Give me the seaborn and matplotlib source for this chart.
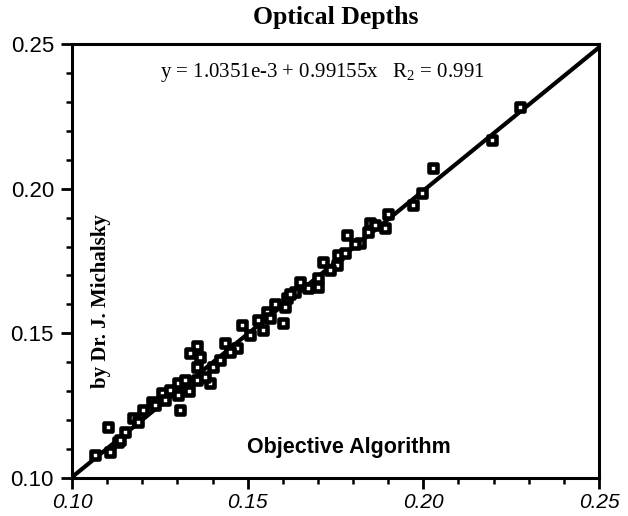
import matplotlib
matplotlib.use("Agg")
import matplotlib.pyplot as plt
import seaborn as sns
import numpy as np
import pandas as pd
from matplotlib.ticker import MultipleLocator, FormatStrFormatter

# ---- data ----
x_values = [0.1065, 0.1103, 0.1108, 0.1132, 0.1151, 0.1174, 0.1203, 0.1188,
            0.1227, 0.1255, 0.1279, 0.1303, 0.1303, 0.1307, 0.1334, 0.1355,
            0.1355, 0.1402, 0.1393, 0.1355, 0.1336, 0.1364, 0.1436, 0.1469,
            0.1379, 0.1483, 0.1545, 0.1601, 0.1554, 0.1606, 0.1611, 0.1635,
            0.1649, 0.1673, 0.1701, 0.1701, 0.1715, 0.1753, 0.1758, 0.1777,
            0.1782, 0.1820, 0.1843, 0.1848, 0.1891, 0.1900, 0.1971, 0.1997,
            0.2028, 0.2196, 0.2275, 0.1507, 0.1564, 0.1421, 0.1450, 0.1322,
            0.1236, 0.1137, 0.1265, 0.1863, 0.1806, 0.1734, 0.1621, 0.1578,
            0.1529]
y_values = [0.1079, 0.1177, 0.1090, 0.1125, 0.1158, 0.1206, 0.1234, 0.1193,
            0.1263, 0.1292, 0.1304, 0.1327, 0.1286, 0.1234, 0.1301, 0.1338,
            0.1384, 0.1384, 0.1327, 0.1456, 0.1431, 0.1419, 0.1465, 0.1448,
            0.1350, 0.1529, 0.1511, 0.1534, 0.1575, 0.1592, 0.1621, 0.1644,
            0.1678, 0.1656, 0.1661, 0.1690, 0.1748, 0.1736, 0.1771, 0.1777,
            0.1840, 0.1811, 0.1852, 0.1881, 0.1863, 0.1913, 0.1944, 0.1985,
            0.2072, 0.2169, 0.2283, 0.1494, 0.1553, 0.1407, 0.1435, 0.1338,
            0.1252, 0.1130, 0.1269, 0.1874, 0.1809, 0.1719, 0.1635, 0.1600,
            0.1546]
fit_intercept = 1.0351e-3
fit_slope = 0.99155
fit_x = [0.10, 0.25]
x_ticks = [0.10, 0.15, 0.20, 0.25]
y_ticks = [0.10, 0.15, 0.20, 0.25]

title_text = "Optical Depths"
equation_text = "y = 1.0351e-3 + 0.99155x   R$_2$ = 0.991"
author_text = "by Dr. J. Michalsky"
xlabel_text = "Objective Algorithm"

# ---- style ----
sns.set_style("ticks")
plt.rcParams["font.family"] = ["Liberation Sans", "DejaVu Sans"]
plt.rcParams["text.color"] = "black"
plt.rcParams["axes.labelcolor"] = "black"
plt.rcParams["xtick.color"] = "black"
plt.rcParams["ytick.color"] = "black"
plt.rcParams["mathtext.fontset"] = "custom"
plt.rcParams["mathtext.rm"] = "Liberation Serif"
plt.rcParams["mathtext.it"] = "Liberation Serif:italic"
plt.rcParams["mathtext.bf"] = "Liberation Serif:bold"

fig = plt.figure(figsize=(6.28, 5.16), dpi=100)
ax = fig.add_axes([0.1146, 0.0742, 0.8392, 0.8399])

df = pd.DataFrame({"x": x_values, "y": y_values})
fit_df = pd.DataFrame({"x": fit_x,
                       "y": [fit_intercept + fit_slope * v for v in fit_x]})

sns.lineplot(data=fit_df, x="x", y="y", ax=ax, color="black", linewidth=3.0,
             zorder=2)
sns.scatterplot(data=df, x="x", y="y", ax=ax, marker="s", s=36,
                facecolor="white", edgecolor="black", linewidth=3.3,
                zorder=3)

ax.set_xlim(0.10, 0.25)
ax.set_ylim(0.10, 0.25)
ax.set_xticks(x_ticks)
ax.set_yticks(y_ticks)
ax.xaxis.set_minor_locator(MultipleLocator(0.01))
ax.yaxis.set_minor_locator(MultipleLocator(0.01))
ax.xaxis.set_major_formatter(FormatStrFormatter("%.2f"))
ax.yaxis.set_major_formatter(FormatStrFormatter("%.2f"))
ax.set_xlabel("")
ax.set_ylabel("")

for sp in ax.spines.values():
    sp.set_linewidth(2.2)
    sp.set_color("black")

ax.tick_params(which="major", direction="out", length=8, width=2.0,
               color="black", labelcolor="black", labelsize=16, pad=5)
ax.tick_params(which="minor", direction="out", length=4.5, width=1.8,
               color="black")
ax.tick_params(axis="x", which="major", pad=3)
for lab in ax.get_xticklabels():
    lab.set_fontstyle("oblique")
    lab.set_fontsize(15)

fig.text(0.534, 0.966, title_text, ha="center", va="center",
         family=["Liberation Serif"], fontweight="bold", fontsize=18.5,
         color="black")
ax.text(0.1712, 0.2401, equation_text, ha="center", va="center",
        family=["Liberation Serif"], fontsize=15, color="black")
ax.text(0.1083, 0.1612, author_text, ha="center", va="center", rotation=90,
        family=["Liberation Serif"], fontweight="bold", fontsize=15,
        color="black")
ax.text(0.1789, 0.1106, xlabel_text, ha="center", va="center",
        fontweight="bold", fontsize=15.5, color="black")

fig.savefig("out.png", dpi=100)
